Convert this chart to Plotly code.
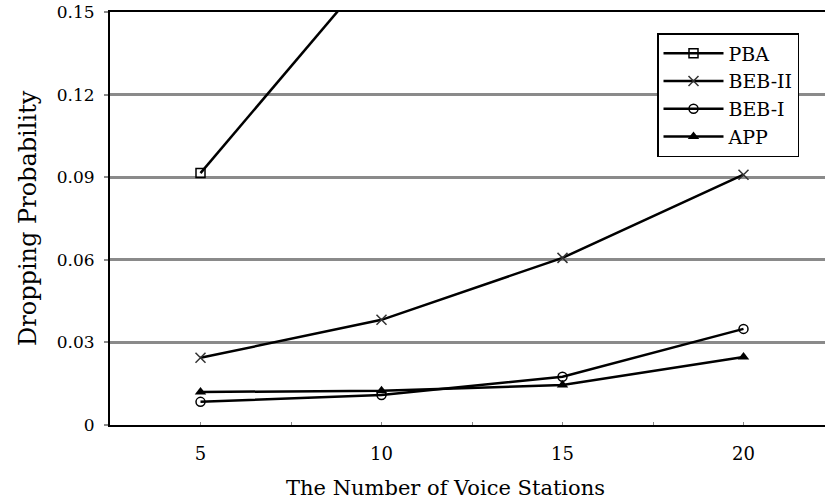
import plotly.graph_objects as go

stations = [5, 10, 15, 20]
pba = [0.0915, 0.169, None, None]
beb2 = [0.0244, 0.0382, 0.0607, 0.0909]
beb1 = [0.0084, 0.0109, 0.0175, 0.0349]
app = [0.0120, 0.0124, 0.0145, 0.0247]

yticks = [0, 0.03, 0.06, 0.09, 0.12, 0.15]
ytick_text = ["0", "0.03", "0.06", "0.09", "0.12", "0.15"]
xticks = [5, 10, 15, 20]
xminor = [2.5, 7.5, 12.5, 17.5]

FONT = "DejaVu Serif"

L, T, B = 110, 12, 425
W = 825 - L
H = B - T

fig = go.Figure()
series = [
    ("PBA", pba, dict(symbol="square-open", size=9, color="black", line=dict(width=1.5, color="black"))),
    ("BEB-II", beb2, dict(symbol="x-thin-open", size=10, color="#333", line=dict(width=1.5, color="#333"))),
    ("BEB-I", beb1, dict(symbol="circle-open", size=9, color="black", line=dict(width=1.5, color="black"))),
    ("APP", app, dict(symbol="triangle-up", size=10, color="black")),
]
for name, vals, mk in series:
    fig.add_trace(go.Scatter(
        x=stations, y=vals, name=name, mode="lines+markers",
        line=dict(color="black", width=2.5), marker=mk,
    ))

fig.update_layout(
    width=825, height=504,
    margin=dict(l=L, r=0, t=T, b=504 - B),
    paper_bgcolor="white", plot_bgcolor="white",
    font=dict(family=FONT, size=18, color="black"),
    showlegend=True,
    legend=dict(
        x=(657 - L) / W, y=(B - 33) / H, xanchor="left", yanchor="top",
        bgcolor="white", bordercolor="black", borderwidth=1.5,
        font=dict(family=FONT, size=19, color="black"),
        tracegroupgap=0, itemwidth=60,
    ),
    xaxis=dict(
        range=[2.5, 2.5 + W / 36.2], tickvals=xticks, ticktext=[str(v) for v in xticks],
        showgrid=False, zeroline=False, showline=True, linecolor="black", linewidth=2,
        mirror=True, ticks="inside", ticklen=3, tickcolor="#888", tickwidth=1,
        minor=dict(tickvals=xminor, ticks="inside", ticklen=3, tickcolor="#888", tickwidth=1, showgrid=False),
        tickfont=dict(family=FONT, size=18), ticklabelstandoff=11, automargin=False,
    ),
    yaxis=dict(
        range=[0, 0.15], tickvals=yticks, ticktext=ytick_text,
        showgrid=True, gridcolor="#8a8a8a", gridwidth=3,
        zeroline=False, showline=True, linecolor="black", linewidth=2,
        ticks="outside", ticklen=4, tickcolor="#8a8a8a", tickwidth=2,
        tickfont=dict(family=FONT, size=17), ticklabelstandoff=6, automargin=False,
        ticklabeloverflow="allow",
    ),
)
fig.add_annotation(
    text="The Number of Voice Stations", xref="paper", yref="paper",
    x=(445 - L) / W, y=-(488 - B) / H, xanchor="center", yanchor="middle",
    showarrow=False, font=dict(family=FONT, size=21, color="black"),
)
fig.add_annotation(
    text="Dropping Probability", xref="paper", yref="paper",
    x=-(L - 28) / W, y=(B - 218) / H, xanchor="center", yanchor="middle",
    textangle=-90, showarrow=False, font=dict(family=FONT, size=24, color="black"),
)
fig.write_html(
    "out.html",
    config={"displayModeBar": False},
    post_script="document.body.style.margin='0';document.body.style.padding='0';",
)
